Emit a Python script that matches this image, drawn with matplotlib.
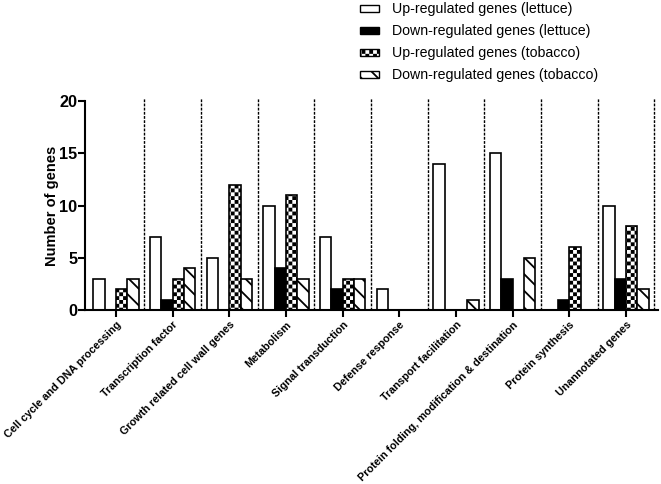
import warnings
import numpy as np
import matplotlib
matplotlib.use("Agg")
import matplotlib.pyplot as plt
from matplotlib import hatch as mhatch
from matplotlib.path import Path
from matplotlib.patches import Patch

warnings.filterwarnings("ignore")

# Categories (x axis)
categories = [
    "Cell cycle and DNA processing",
    "Transcription factor",
    "Growth related cell wall genes",
    "Metabolism",
    "Signal transduction",
    "Defense response",
    "Transport facilitation",
    "Protein folding, modification & destination",
    "Protein synthesis",
    "Unannotated genes",
]

# Number of genes per series
up_lettuce = [3, 7, 5, 10, 7, 2, 14, 15, 0, 10]
down_lettuce = [0, 1, 0, 4, 2, 0, 0, 3, 1, 3]
up_tobacco = [2, 3, 12, 11, 3, 0, 0, 0, 6, 8]
down_tobacco = [3, 4, 3, 3, 3, 0, 1, 5, 0, 2]

series_labels = [
    "Up-regulated genes (lettuce)",
    "Down-regulated genes (lettuce)",
    "Up-regulated genes (tobacco)",
    "Down-regulated genes (tobacco)",
]

y_ticks = [0, 5, 10, 15, 20]


# Checkerboard hatch ('c'), filled squares
class CheckerHatch(mhatch.HatchPatternBase):
    def __init__(self, hatch, density):
        self.n = 26 if "c" in hatch else 0
        self.num_vertices = 5 * (self.n * self.n // 2)

    def set_vertices_and_codes(self, vertices, codes):
        n = self.n
        s = 1.0 / n
        pad = 0.009
        k = 0
        for i in range(n):
            for j in range(n):
                if (i + j) % 2 == 0:
                    x0, y0 = i * s + pad, j * s + pad
                    x1, y1 = (i + 1) * s - pad, (j + 1) * s - pad
                    vertices[k:k + 5] = [(x0, y0), (x1, y0), (x1, y1), (x0, y1), (x0, y0)]
                    codes[k:k + 5] = [Path.MOVETO, Path.LINETO, Path.LINETO,
                                      Path.LINETO, Path.CLOSEPOLY]
                    k += 5


mhatch._hatch_types.append(CheckerHatch)

plt.rcParams["font.family"] = ["Liberation Sans", "DejaVu Sans"]
plt.rcParams["hatch.linewidth"] = 1.3

fig = plt.figure(figsize=(6.61, 4.84), dpi=100)
ax = fig.add_axes([0.1286, 0.3595, 0.8664, 0.4315])

x = np.arange(len(categories))
w = 0.2
series = [up_lettuce, down_lettuce, up_tobacco, down_tobacco]
faces = ["white", "black", "white", "white"]
hatches = [None, None, "c", "\\\\"]
offsets = [-1.5 * w, -0.5 * w, 0.5 * w, 1.5 * w]

for vals, fc, h, off in zip(series, faces, hatches, offsets):
    ax.bar(x + off, vals, w, color=fc, edgecolor="black", linewidth=1.2, hatch=h)

# dotted separators between groups
for xs in x + 0.5:
    ax.plot([xs, xs], [0, 20.3], color="black", lw=1.0, ls=(0, (2, 1)), clip_on=False)

ax.set_xlim(-0.547, 9.56)
ax.set_ylim(0, 20)
ax.set_yticks(y_ticks)
ax.set_yticklabels([str(t) for t in y_ticks], fontsize=11.7, fontweight="bold")
ax.set_xticks(x)
ax.set_xticklabels(categories, rotation=45, ha="right", rotation_mode="anchor",
                   fontsize=7.8, fontweight="bold")
ax.set_ylabel("Number of genes", fontsize=10.5, fontweight="bold", labelpad=0)

ax.spines["top"].set_visible(False)
ax.spines["right"].set_visible(False)
ax.spines["left"].set_linewidth(1.5)
ax.spines["bottom"].set_linewidth(1.5)
ax.tick_params(direction="out", length=5, width=1.5)
ax.tick_params(axis="y", pad=0.5)
ax.tick_params(axis="x", pad=2)

# legend
handles = [Patch(facecolor=fc, edgecolor="black", linewidth=1.0, hatch=h)
           for fc, h in zip(faces, hatches)]
fig.legend(handles, series_labels, loc="upper left", bbox_to_anchor=(360 / 661, 0.995),
           bbox_transform=fig.transFigure, frameon=False, fontsize=10.2,
           handlelength=1.34, handleheight=0.39, handletextpad=0.92,
           labelspacing=0.56, borderpad=0, borderaxespad=0)

fig.savefig("out.png", dpi=100)
